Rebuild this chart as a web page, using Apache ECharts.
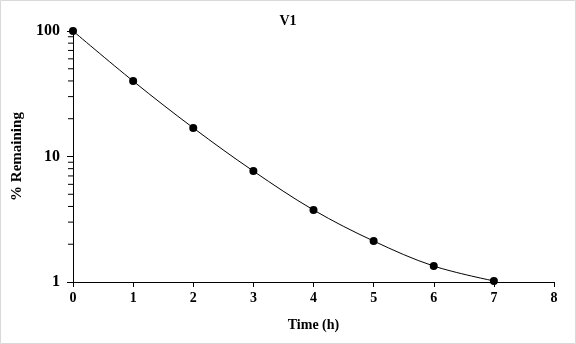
<!DOCTYPE html>
<html>
<head>
<meta charset="utf-8">
<script src="https://cdn.jsdelivr.net/npm/echarts@6/dist/echarts.min.js"></script>
<style>
  html, body { margin: 0; padding: 0; background: #fff; }
  #chart { width: 576px; height: 344px; }
</style>
</head>
<body>
<div id="chart"></div>
<script>
// Time points (h) and percent of parent remaining
const timeHours = [0, 1, 2, 3, 4, 5, 6, 7];
const pctRemaining = [100, 39.9, 16.9, 7.65, 3.75, 2.12, 1.34, 1.02];
// Minor tick positions on the log axis (2..9 within each decade)
const minorTickValues = [2, 3, 4, 5, 6, 7, 8, 9, 20, 30, 40, 50, 60, 70, 80, 90];

const FONT = '"Liberation Serif", "Times New Roman", serif';
const chart = echarts.init(document.getElementById('chart'));

chart.setOption({
  animation: false,
  backgroundColor: '#fff',
  title: {
    text: 'V1',
    left: 'center',
    top: 9,
    textStyle: { fontFamily: FONT, fontWeight: 'bold', fontSize: 14, color: '#000' }
  },
  grid: { left: 73, right: 22, top: 31, bottom: 62 },
  xAxis: {
    type: 'value',
    min: 0, max: 8, interval: 1,
    name: 'Time (h)',
    nameLocation: 'middle',
    nameGap: 36,
    nameTextStyle: { fontFamily: FONT, fontWeight: 'bold', fontSize: 14, color: '#000' },
    axisLine: { lineStyle: { color: '#000', width: 1 } },
    axisTick: { show: true, inside: false, length: 5, lineStyle: { color: '#000' } },
    axisLabel: { fontFamily: FONT, fontWeight: 'bold', fontSize: 14, color: '#000', margin: 9 },
    splitLine: { show: false }
  },
  yAxis: {
    type: 'log',
    logBase: 10,
    min: 1, max: 100,
    name: '% Remaining',
    nameLocation: 'middle',
    nameGap: 46,
    nameTextStyle: { fontFamily: FONT, fontWeight: 'bold', fontSize: 15, color: '#000' },
    axisLine: { show: true, lineStyle: { color: '#000', width: 1 } },
    axisTick: { show: true, inside: false, length: 6, lineStyle: { color: '#000' } },
    minorTick: { show: false },
    axisLabel: { fontFamily: FONT, fontWeight: 'bold', fontSize: 16, color: '#000', margin: 13 },
    splitLine: { show: false }
  },
  series: [
    {
      type: 'line',
      data: timeHours.map((t, i) => [t, pctRemaining[i]]),
      smooth: 0.35,
      symbol: 'circle',
      symbolSize: 8,
      itemStyle: { color: '#000' },
      lineStyle: { color: '#000', width: 1 },
      z: 3
    },
    {
      // short outward ticks at the intermediate log values
      type: 'custom',
      data: minorTickValues.map(v => [0, v]),
      silent: true,
      clip: false,
      renderItem: function (params, api) {
        const p = api.coord([0, api.value(1)]);
        return {
          type: 'line',
          shape: { x1: p[0] - 5, y1: p[1], x2: p[0], y2: p[1] },
          style: { stroke: '#000', lineWidth: 1 }
        };
      },
      z: 2
    }
  ],
  graphic: [
    {
      type: 'rect',
      shape: { x: 0.5, y: 0.5, width: 575, height: 343 },
      style: { fill: 'none', stroke: '#d9d9d9', lineWidth: 1 },
      silent: true
    }
  ]
});
</script>
</body>
</html>
